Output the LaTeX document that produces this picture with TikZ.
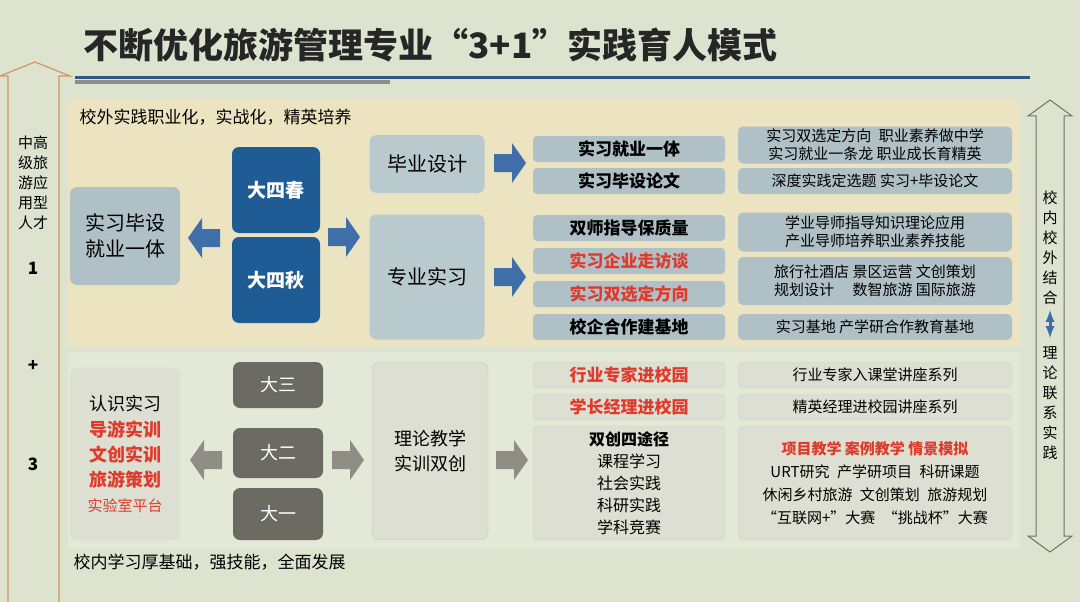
\documentclass[tikz,border=0pt]{standalone}
\usepackage{fontspec}
\setmainfont{Noto Sans CJK SC}
\newfontfamily\titlefont{Noto Sans CJK SC}
\definecolor{bg}{HTML}{DEE3D0}
\definecolor{upper}{HTML}{ECE3C0}
\definecolor{lower}{HTML}{E4E8D6}
\definecolor{dblue}{HTML}{1F5C96}
\definecolor{ablue}{HTML}{3F6EA8}
\definecolor{gbox}{HTML}{AFC0C6}
\definecolor{lbox}{HTML}{B9CACE}
\definecolor{dgrey}{HTML}{6B6B63}
\definecolor{agrey}{HTML}{8E8E87}
\definecolor{pale}{HTML}{DCDFD1}
\definecolor{rtxt}{HTML}{E03A2C}
\definecolor{orng}{HTML}{CF9466}
\newcommand{\rarr}[4]{\fill[#4] (#1,#2-9) -- (#1+18,#2-9) -- (#1+18,#2-20) -- (#1+#3,#2) -- (#1+18,#2+20) -- (#1+18,#2+9) -- (#1,#2+9) -- cycle;}
\newcommand{\larr}[4]{\fill[#4] (#1,#2-9) -- (#1-18,#2-9) -- (#1-18,#2-20) -- (#1-#3,#2) -- (#1-18,#2+20) -- (#1-18,#2+9) -- (#1,#2+9) -- cycle;}
\begin{document}
\begin{tikzpicture}[x=1pt,y=-1pt,
  bx/.style={rounded corners=7pt,inner sep=0pt,align=center},
  big/.style={font=\fontsize{20}{26}\selectfont}]
\fill[bg] (0,0) rectangle (1080,602);
\useasboundingbox (0,0) rectangle (1080,602);
% title
\node[anchor=west,font=\titlefont\bfseries\fontsize{35}{38}\selectfont,text=black!85] (title) at (80,45) {不断优化旅游管理专业“3+1”实践育人模式};
\fill[ablue!80!black] (75,76) rectangle (1030,79);
\fill[agrey] (75,80) rectangle (390,84);
% panels
\fill[upper] (68,100) rectangle (1020,346);
\fill[lower] (68,352) rectangle (1020,548);
\node[anchor=west,font=\fontsize{17}{20}\selectfont] (ul) at (76,117) {校外实践职业化，实战化，精英培养};
\node[anchor=west,font=\fontsize{17}{20}\selectfont] (ll) at (70,562) {校内学习厚基础，强技能，全面发展};
% left arrow
\draw[orng,line width=1.2pt,fill=bg] (8,602) -- (8,76) -- (0,76) -- (35,62) -- (70,76) -- (59,76) -- (59,602);
\node[align=center,inner sep=0pt,font=\fontsize{15}{20}\selectfont] (lt) at (33,183) {中高\\级旅\\游应\\用型\\人才};
\node[font=\bfseries\fontsize{17}{18}\selectfont] (n1) at (33,268) {1};
\node[font=\bfseries\fontsize{17}{18}\selectfont] (np) at (33,366) {+};
\node[font=\bfseries\fontsize{17}{18}\selectfont] (n3) at (33,464) {3};
% right double arrow
\draw[agrey!80!black,line width=1pt,fill=bg] (1036,116) -- (1028,116) -- (1050,100) -- (1072,116) -- (1064,116) -- (1064,536) -- (1072,536) -- (1050,552) -- (1028,536) -- (1036,536) -- cycle;
\node[align=center,inner sep=0pt,font=\fontsize{15}{20}\selectfont] (rt1) at (1050,248) {校\\内\\校\\外\\结\\合};
\draw[ablue,line width=3pt,<->,>=latex] (1050,310) -- (1050,338);
\node[align=center,inner sep=0pt,font=\fontsize{15}{20}\selectfont] (rt2) at (1050,403) {理\\论\\联\\系\\实\\践};
% upper left
\node[bx,fill=gbox,minimum width=110pt,minimum height=98pt,big] (sx) at (125,236) {实习毕设\\就业一体};
\larr{220}{238}{32}{ablue}
\node[bx,fill=dblue,text=white,minimum width=88pt,minimum height=86pt,font=\bfseries\fontsize{19}{24}\selectfont] (chun) at (276,190) {大四春};
\node[bx,fill=dblue,text=white,minimum width=88pt,minimum height=86pt,font=\bfseries\fontsize{19}{24}\selectfont] (qiu) at (276,280) {大四秋};
\rarr{328}{237}{32}{ablue}
\node[bx,fill=lbox,minimum width=115pt,minimum height=58pt,big] (bysj) at (427,164) {毕业设计};
\node[bx,fill=lbox,minimum width=115pt,minimum height=125pt,big] (zysx) at (427,277) {专业实习};
\rarr{494}{163}{32}{ablue}
\rarr{494}{277}{32}{ablue}
% upper middle
\tikzset{mid/.style={bx,fill=gbox,minimum width=192pt,minimum height=26pt,rounded corners=4pt,font=\bfseries\fontsize{17}{20}\selectfont},
 rgt/.style={bx,fill=gbox,minimum width=274pt,rounded corners=5pt,font=\fontsize{15}{18}\selectfont}}
\node[mid] (m1) at (629,149) {实习就业一体};
\node[mid] (m2) at (629,181) {实习毕设论文};
\node[mid] (m3) at (629,228) {双师指导保质量};
\node[mid,text=rtxt] (m4) at (629,261) {实习企业走访谈};
\node[mid,text=rtxt] (m5) at (629,294) {实习双选定方向};
\node[mid] (m6) at (629,327) {校企合作建基地};
\node[rgt,minimum height=37pt] (r1) at (875,145) {实习双选定方向\enspace 职业素养做中学\\实习就业一条龙 职业成长育精英};
\node[rgt,minimum height=26pt] (r2) at (875,181) {深度实践定选题 实习+毕设论文};
\node[rgt,minimum height=39pt] (r3) at (875,232) {学业导师指导知识理论应用\\产业导师培养职业素养技能};
\node[rgt,minimum height=48pt] (r4) at (875,281) {旅行社酒店 景区运营 文创策划\\规划设计\quad\ 数智旅游 国际旅游};
\node[rgt,minimum height=26pt] (r5) at (875,327) {实习基地 产学研合作教育基地};
% lower
\node[bx,fill=pale,minimum width=110pt,minimum height=173pt,font=\fontsize{18}{25}\selectfont] (rs) at (125,454) {认识实习\\[1pt]\textcolor{rtxt}{\bfseries 导游实训}\\\textcolor{rtxt}{\bfseries 文创实训}\\\textcolor{rtxt}{\bfseries 旅游策划}\\\textcolor{rtxt}{\fontsize{15}{18}\selectfont 实验室平台}};
\larr{222}{460}{32}{agrey}
\node[bx,fill=dgrey,text=white,minimum width=90pt,minimum height=46pt,font=\fontsize{18}{20}\selectfont] (d3) at (278,385) {大三};
\node[bx,fill=dgrey,text=white,minimum width=90pt,minimum height=50pt,font=\fontsize{18}{20}\selectfont] (d2) at (278,453) {大二};
\node[bx,fill=dgrey,text=white,minimum width=90pt,minimum height=52pt,font=\fontsize{18}{20}\selectfont] (d1) at (278,514) {大一};
\rarr{332}{460}{32}{agrey}
\node[bx,fill=pale,draw=agrey!50,minimum width=116pt,minimum height=177pt,font=\fontsize{18}{25}\selectfont] (ll2) at (430,451) {理论教学\\实训双创};
\rarr{496}{460}{32}{agrey}
\tikzset{lm/.style={bx,fill=pale,draw=agrey!40,minimum width=192pt,rounded corners=4pt},
 lr/.style={bx,fill=pale,draw=agrey!40,minimum width=274pt,rounded corners=5pt,font=\fontsize{15}{18}\selectfont}}
\node[lm,minimum height=26pt,text=rtxt,font=\bfseries\fontsize{17}{20}\selectfont] (lm1) at (629,375) {行业专家进校园};
\node[lm,minimum height=26pt,text=rtxt,font=\bfseries\fontsize{17}{20}\selectfont] (lm2) at (629,407) {学长经理进校园};
\node[lm,minimum height=114pt,font=\fontsize{16}{22}\selectfont] (lm3) at (629,483) {{\bfseries 双创四途径}\\课程学习\\社会实践\\科研实践\\学科竞赛};
\node[lr,minimum height=26pt] (lr1) at (875,375) {行业专家入课堂讲座系列};
\node[lr,minimum height=26pt] (lr2) at (875,407) {精英经理进校园讲座系列};
\node[lr,minimum height=114pt,font=\fontsize{15}{23}\selectfont] (lr3) at (875,483) {\textcolor{rtxt}{\bfseries 项目教学 案例教学 情景模拟}\\URT研究\enspace 产学研项目\enspace 科研课题\\休闲乡村旅游\enspace 文创策划\enspace 旅游规划\\“互联网+”大赛\enspace“挑战杯”大赛};
\end{tikzpicture}
\end{document}
